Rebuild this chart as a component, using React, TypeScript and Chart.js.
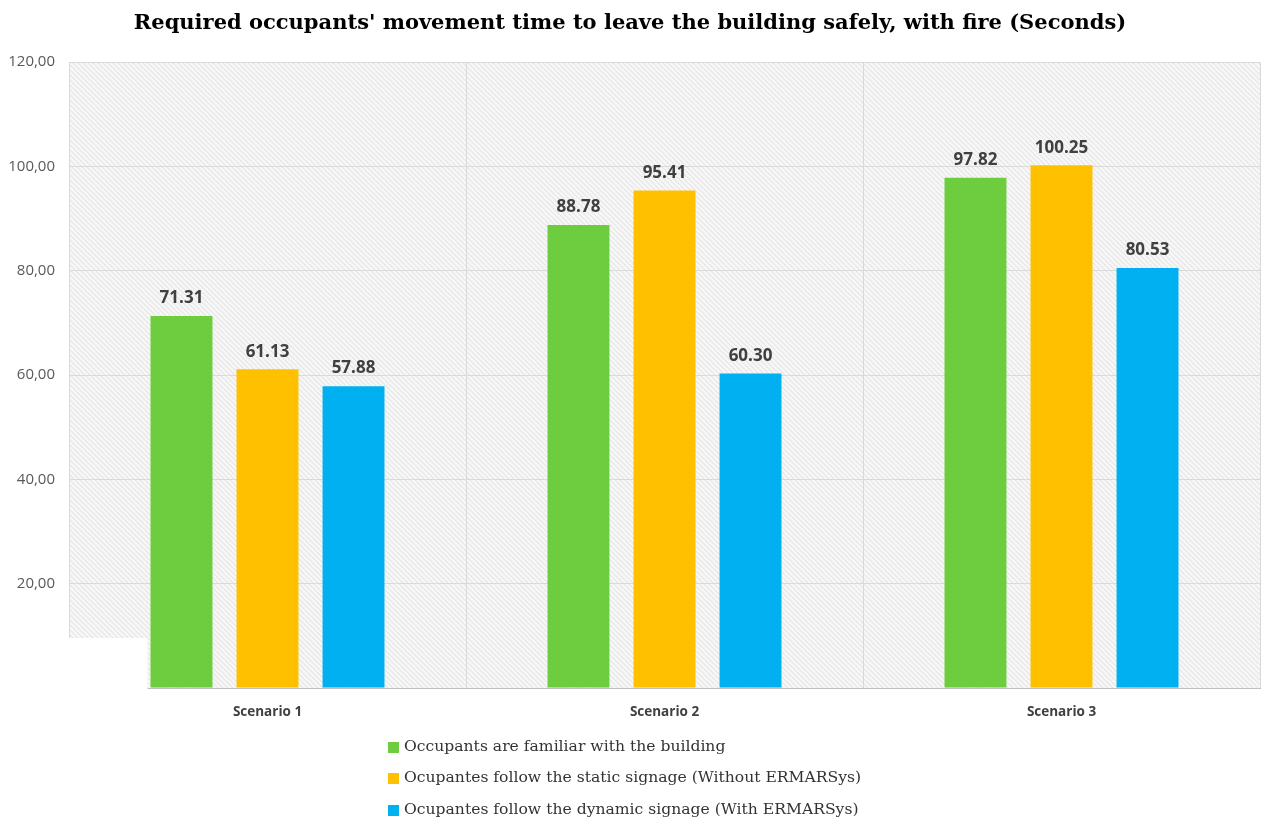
import React, { useEffect, useRef } from 'react';
import { Chart, registerables } from 'chart.js';

Chart.register(...registerables);

const titleText = "Required occupants' movement time to leave the building safely, with fire (Seconds)";
const categories = ['Scenario 1', 'Scenario 2', 'Scenario 3'];
const seriesLabels = [
  'Occupants are familiar with the building',
  'Ocupantes follow the static signage (Without ERMARSys)',
  'Ocupantes follow the dynamic signage (With ERMARSys)',
];
const familiarValues = [71.31, 88.78, 97.82];
const staticValues = [61.13, 95.41, 100.25];
const dynamicValues = [57.88, 60.3, 80.53];
const seriesColors = ['#6DCD3E', '#FFC000', '#00B0F0'];
const yMin = 0;
const yMax = 120;
const yStep = 20;

function makeHatch(ctx: CanvasRenderingContext2D) {
  const c = document.createElement('canvas');
  const s = 5;
  c.width = s;
  c.height = s;
  const g = c.getContext('2d')!;
  g.fillStyle = '#f7f7f7';
  g.fillRect(0, 0, s, s);
  g.strokeStyle = '#e4e4e4';
  g.lineWidth = 1.1;
  for (const o of [-s, 0, s]) {
    g.beginPath();
    g.moveTo(o, 0);
    g.lineTo(o + s, s);
    g.stroke();
  }
  return ctx.createPattern(c, 'repeat');
}

const hatchPlugin = {
  id: 'hatchBg',
  beforeDraw(chart: any) {
    const { ctx, chartArea: a } = chart;
    ctx.save();
    const p = makeHatch(ctx);
    if (p) ctx.fillStyle = p;
    ctx.fillRect(a.left, a.top, a.right - a.left, a.bottom - a.top);
    ctx.restore();
  },
  beforeDatasetsDraw(chart: any) {
    // white patch at lower left of the plot, as in the reference
    const { ctx, chartArea: a, scales } = chart;
    const meta = chart.getDatasetMeta(0);
    const first = meta.data[0];
    if (!first) return;
    const xEnd = first.x - first.width / 2 - 3;
    const yTop = scales.y.getPixelForValue(9.6);
    ctx.save();
    ctx.fillStyle = '#ffffff';
    ctx.fillRect(a.left - 2, yTop, xEnd - a.left + 2, a.bottom - yTop + 3);
    ctx.restore();
  },
};

const valueLabelPlugin = {
  id: 'valueLabels',
  afterDatasetsDraw(chart: any) {
    const { ctx } = chart;
    ctx.save();
    ctx.font = 'bold 17px "Open Sans"';
    ctx.fillStyle = '#404040';
    ctx.textAlign = 'center';
    ctx.textBaseline = 'bottom';
    chart.data.datasets.forEach((ds: any, i: number) => {
      const meta = chart.getDatasetMeta(i);
      meta.data.forEach((bar: any, j: number) => {
        ctx.fillText(Number(ds.data[j]).toFixed(2), bar.x, bar.y - 9);
      });
    });
    ctx.restore();
  },
};

const legendPlugin = {
  id: 'vertLegend',
  afterDraw(chart: any) {
    const { ctx, chartArea: a } = chart;
    ctx.save();
    ctx.font = '15.6px "DejaVu Serif"';
    ctx.textBaseline = 'middle';
    ctx.textAlign = 'left';
    const x0 = 388;
    const offsets = [59, 90, 122];
    chart.data.datasets.forEach((ds: any, i: number) => {
      const y = a.bottom + offsets[i];
      ctx.fillStyle = ds.backgroundColor;
      ctx.fillRect(x0, y - 5, 11, 11);
      ctx.fillStyle = '#333333';
      ctx.fillText(ds.label, x0 + 16, y);
    });
    ctx.restore();
  },
};

export default function App() {
  const ref = useRef<HTMLCanvasElement>(null);
  useEffect(() => {
    if (!ref.current) return;
    const chart = new Chart(ref.current, {
      type: 'bar',
      data: {
        labels: categories,
        datasets: [
          { label: seriesLabels[0], data: familiarValues, backgroundColor: seriesColors[0] },
          { label: seriesLabels[1], data: staticValues, backgroundColor: seriesColors[1] },
          { label: seriesLabels[2], data: dynamicValues, backgroundColor: seriesColors[2] },
        ],
      },
      options: {
        animation: false,
        responsive: false,
        maintainAspectRatio: false,
        devicePixelRatio: 1,
        layout: { padding: { left: 0, right: 3, top: 0, bottom: 95 } },
        datasets: { bar: { categoryPercentage: 0.65, barPercentage: 0.72 } },
        plugins: {
          legend: { display: false },
          tooltip: { enabled: false },
          title: {
            display: true,
            text: titleText,
            color: '#000000',
            font: { family: '"DejaVu Serif"', size: 21, weight: 'bold' },
            padding: { top: 11, bottom: 26 },
          },
        },
        scales: {
          x: {
            grid: { color: '#d9d9d9', drawTicks: false, offset: true },
            border: { color: '#bfbfbf' },
            ticks: {
              color: '#404040',
              padding: 16,
              font: { family: '"Open Sans"', size: 13.5, weight: 'bold' },
            },
            afterFit: (s: any) => {
              s.height = 40;
            },
          },
          y: {
            min: yMin,
            max: yMax,
            grid: { color: '#dadada', drawTicks: false },
            border: { color: '#d9d9d9' },
            ticks: {
              stepSize: yStep,
              color: '#595959',
              padding: 14,
              font: { family: '"Open Sans"', size: 15 },
              callback: (v: any) => (Number(v) === 0 ? '' : Number(v).toFixed(2).replace('.', ',')),
            },
            afterFit: (s: any) => {
              s.width = 69;
            },
          },
        },
      },
      plugins: [hatchPlugin, valueLabelPlugin, legendPlugin],
    } as any);
    return () => chart.destroy();
  }, []);
  return (
    <div style={{ position: 'fixed', left: 0, top: 0, width: 1263, height: 823, background: '#fff' }}>
      <canvas ref={ref} width={1263} height={823} style={{ width: 1263, height: 823 }} />
    </div>
  );
}
